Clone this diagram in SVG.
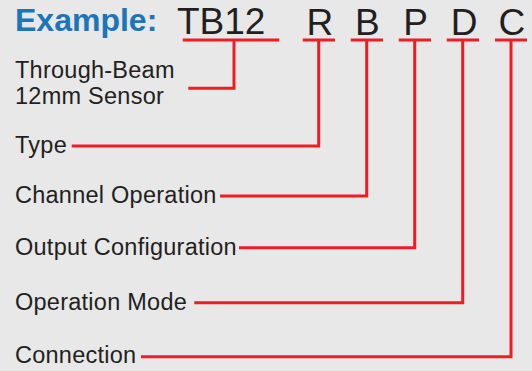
<svg xmlns="http://www.w3.org/2000/svg" width="532" height="371" viewBox="0 0 532 371">
<style>
.bg{fill:#e8e8e8}
.lbl{font-family:"Liberation Sans",Arial,sans-serif;font-size:23.5px;letter-spacing:0.25px;fill:#231f20}
.code{font-family:"Liberation Sans",Arial,sans-serif;font-size:37px;fill:#231f20}
.ex{font-family:"Liberation Sans",Arial,sans-serif;font-size:32px;font-weight:bold;fill:#1b75bb}
.ln{fill:none;stroke:#ee1c25;stroke-width:3}
</style>
<rect class="bg" x="0" y="0" width="532" height="371"/>
<g id="title">
<text class="ex" x="15" y="31">Example:</text>
</g>
<g id="code">
<text class="code" x="177" y="34">TB12</text>
<text class="code" x="306.4" y="34.5">R</text>
<text class="code" x="355" y="34.5">B</text>
<text class="code" x="403.2" y="34.5">P</text>
<text class="code" x="450.7" y="34.5">D</text>
<text class="code" x="498.5" y="34.5">C</text>
</g>
<g id="sensor"><text class="lbl" x="15" y="78">Through-Beam</text><text class="lbl" x="15" y="103.5">12mm Sensor</text></g>
<g id="type"><text class="lbl" x="15" y="152.7">Type</text></g>
<g id="channel"><text class="lbl" x="15" y="203.3">Channel Operation</text></g>
<g id="output"><text class="lbl" x="15" y="254.5">Output Configuration</text></g>
<g id="mode"><text class="lbl" x="15" y="310">Operation Mode</text></g>
<g id="connection"><text class="lbl" x="15" y="363.3">Connection</text></g>
<g id="connectors">
<path class="ln" d="M182.7 40H279.3"/>
<path class="ln" d="M234 40V88.3H188.3"/>
<path class="ln" d="M302.7 40H335M318.7 40V146H71.7"/>
<path class="ln" d="M350.7 40H383M366.7 40V196H220"/>
<path class="ln" d="M398.7 40H431M414.7 40V247.7H239"/>
<path class="ln" d="M446.7 40H479M462.7 40V302.7H194.3"/>
<path class="ln" d="M495 40H527M511 40V356.7H141"/>
</g>
</svg>
